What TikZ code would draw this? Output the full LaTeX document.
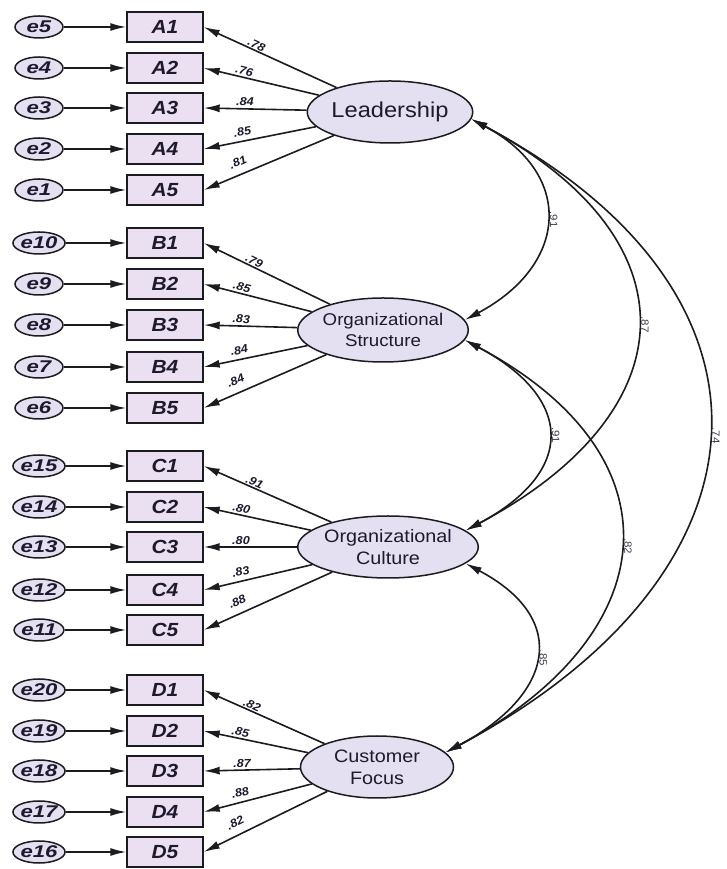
\documentclass[tikz,border=0pt]{standalone}
\usepackage{fontspec}
\setmainfont{Liberation Sans}
\newfontfamily\widefont[FakeStretch=1.1]{Liberation Sans}
\newfontfamily\errfont[FakeStretch=1.3]{Liberation Sans}
\usetikzlibrary{arrows.meta,shapes.geometric}

\definecolor{latentfill}{RGB}{228,224,242}
\definecolor{obsfill}{RGB}{234,224,242}
\definecolor{inkline}{RGB}{28,28,32}
\definecolor{inktext}{RGB}{30,25,45}

\tikzset{
  errnode/.style={ellipse, draw=inkline, line width=1.5pt, fill=latentfill,
    minimum width=48pt, minimum height=22pt, inner sep=0pt, text=inktext,
    font=\errfont\bfseries\itshape\fontsize{17}{17}\selectfont},
  obsbox/.style={rectangle, draw=inkline, line width=1.4pt, fill=obsfill,
    minimum width=76pt, minimum height=30pt, inner sep=0pt, text=inktext,
    font=\widefont\bfseries\itshape\fontsize{19}{19}\selectfont},
  latent/.style={ellipse, draw=inkline, line width=1.5pt, fill=latentfill,
    minimum width=150pt, minimum height=62pt, inner sep=0pt, align=center, text=inktext},
  arr/.style={draw=inkline, line width=1.6pt, -{Latex[length=16pt,width=8pt]}},
  cov/.style={draw=inkline, line width=1.6pt,
    {Latex[length=16pt,width=8pt]}-{Latex[length=16pt,width=8pt]}},
  load/.style={font=\widefont\bfseries\itshape\fontsize{11.5}{11.5}\selectfont,
    text=inktext, inner sep=0.5pt, sloped},
  % placement of the loading labels, one style per indicator row
  row1/.style={pos=0.62, above=0.5pt},
  row2/.style={pos=0.66, above=1pt},
  row3/.style={pos=0.60, above=1.5pt},
  row4/.style={pos=0.64, above=4pt},
  row5/.style={pos=0.70, above=7pt},
  corr/.style={font=\widefont\fontsize{10.5}{10.5}\selectfont, text=inktext!85,
    inner sep=0pt, rotate=-90}
}

\begin{document}
\begin{tikzpicture}[x=1pt,y=1pt]
\useasboundingbox (0,0) rectangle (726,869);

% latent factors
\node[latent, font=\widefont\fontsize{21.5}{24}\selectfont] (L) at (390,757) {Leadership};
\node[latent, minimum height=64pt, font=\widefont\fontsize{17}{21}\selectfont] (OS) at (383,539) {Organizational\\Structure};
\node[latent, font=\widefont\fontsize{18}{22}\selectfont] (OC) at (388,322) {Organizational\\Culture};
\node[latent, minimum width=153pt, font=\widefont\fontsize{18}{22}\selectfont] (CF) at (377,102) {Customer\\Focus};

% indicators with their error terms
\foreach \i/\y/\e/\v in {1/842/5/.78, 2/801/4/.76, 3/761/3/.84, 4/720/2/.85, 5/679/1/.81}{
  \node[obsbox] (A\i) at (165,\y) {A\i};
  \node[errnode] (e\e) at (39,\y) {e\e};
  \draw[arr] (e\e) -- (A\i);
  \draw[arr] (L) -- (A\i.east) node[load, row\i] {\v};
}
\foreach \i/\y/\e/\v in {1/626/10/.79, 2/585/9/.85, 3/544/8/.83, 4/502/7/.84, 5/461/6/.84}{
  \node[obsbox] (B\i) at (165,\y) {B\i};
  \node[errnode] (e\e) at (39,\y) {e\e};
  \draw[arr] (e\e) -- (B\i);
  \draw[arr] (OS) -- (B\i.east) node[load, row\i] {\v};
}
\foreach \i/\y/\e/\v in {1/403/15/.91, 2/362/14/.80, 3/322/13/.80, 4/279/12/.83, 5/239/11/.88}{
  \node[obsbox] (C\i) at (165,\y) {C\i};
  \node[errnode] (e\e) at (39,\y) {e\e};
  \draw[arr] (e\e) -- (C\i);
  \draw[arr] (OC) -- (C\i.east) node[load, row\i] {\v};
}
\foreach \i/\y/\e/\v in {1/179/20/.82, 2/138/19/.85, 3/98/18/.87, 4/57/17/.88, 5/17/16/.82}{
  \node[obsbox] (D\i) at (165,\y) {D\i};
  \node[errnode] (e\e) at (39,\y) {e\e};
  \draw[arr] (e\e) -- (D\i);
  \draw[arr] (CF) -- (D\i.east) node[load, row\i] {\v};
}

% factor correlations
\draw[cov] (L.-5) to[out=-28, in=28, looseness=1.49] coordinate[pos=0.5] (mLOS) (OS.7);
\draw[cov] (L.-5) to[out=-28, in=28, looseness=1.58] coordinate[pos=0.5] (mLOC) (OC.12);
\draw[cov] (L.-5) to[out=-28, in=28, looseness=1.52] coordinate[pos=0.5] (mLCF) (CF.12);
\draw[cov] (OS.-7) to[out=-28, in=28, looseness=1.67] coordinate[pos=0.5] (mSOC) (OC.12);
\draw[cov] (OS.-7) to[out=-28, in=28, looseness=1.54] coordinate[pos=0.5] (mSCF) (CF.12);
\draw[cov] (OC.-12) to[out=-28, in=28, looseness=1.62] coordinate[pos=0.5] (mOCF) (CF.12);

\node[corr] (rLOS) at ([xshift=8pt]mLOS) {.91};
\node[corr] (rLOC) at ([xshift=8pt]mLOC) {.87};
\node[corr] (rLCF) at ([xshift=8pt]mLCF) {.74};
\node[corr] (rSOC) at ([xshift=8pt]mSOC) {.91};
\node[corr] (rSCF) at ([xshift=8pt]mSCF) {.82};
\node[corr] (rOCF) at ([xshift=8pt]mOCF) {.85};
\end{tikzpicture}
\end{document}
